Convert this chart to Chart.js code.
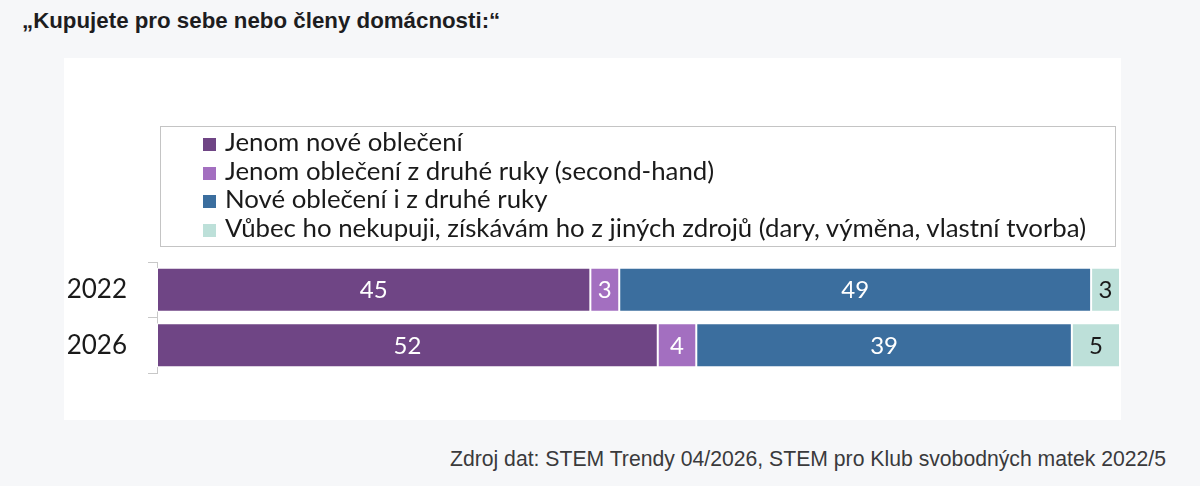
<!DOCTYPE html>
<html lang="cs">
<head>
    <meta charset="UTF-8">
    <title>Kupujete pro sebe nebo členy domácnosti</title>
    <script src="https://cdn.jsdelivr.net/npm/chart.js"></script>
    <style>
        body {
            margin: 0;
            width: 1200px;
            height: 486px;
            background: #f6f7f9;
            position: relative;
            overflow: hidden;
            font-family: "Liberation Sans", Arial, sans-serif;
        }

        .title {
            position: absolute;
            left: 22px;
            top: 8px;
            font-size: 22.3px;
            font-weight: bold;
            color: #1d1d1f;
        }

        .panel {
            position: absolute;
            left: 64px;
            top: 58px;
            width: 1057px;
            height: 362px;
            background: #fff;
        }

        #legend {
            position: absolute;
            left: 96px;
            top: 68px;
            width: 954px;
            height: 119px;
            border: 1px solid #c4c4c4;
            font-family: Lato, sans-serif;
            font-size: 25.8px;
            color: #1a1a1a;
        }

        #legend ul {
            list-style: none;
            margin: 0;
            padding: 0 0 0 42px;
        }

        #legend li {
            height: 28.7px;
            line-height: 28.7px;
            white-space: nowrap;
        }

        #legend .box {
            display: inline-block;
            width: 13px;
            height: 13px;
            margin-right: 9px;
            vertical-align: 0px;
        }

        .source {
            position: absolute;
            right: 34px;
            top: 447px;
            font-size: 21.2px;
            color: #3a3a3c;
        }
    </style>
</head>
<body>
    <div class="title">„Kupujete pro sebe nebo členy domácnosti:“</div>
    <div class="panel">
        <canvas id="chart" width="1057" height="362"></canvas>
        <div id="legend"></div>
    </div>
    <div class="source">Zdroj dat: STEM Trendy 04/2026, STEM pro Klub svobodných matek 2022/5</div>

    <script>
        // data
        const years = ['2022', '2026'];
        const seriesNames = [
            'Jenom nové oblečení',
            'Jenom oblečení z druhé ruky (second-hand)',
            'Nové oblečení i z druhé ruky',
            'Vůbec ho nekupuji, získávám ho z jiných zdrojů (dary, výměna, vlastní tvorba)'
        ];
        const onlyNew = [45, 52];
        const onlySecondHand = [3, 4];
        const newAndSecondHand = [49, 39];
        const notBuying = [3, 5];

        const colors = ['#6f4585', '#a36fc0', '#3b6e9e', '#bde0d9'];
        const labelColors = ['#ffffff', '#ffffff', '#ffffff', '#1a1a1a'];

        const values = [onlyNew, onlySecondHand, newAndSecondHand, notBuying];

        // popisky hodnot uvnitř pruhů
        const barLabels = {
            id: 'barLabels',
            afterDatasetsDraw(chart) {
                const c = chart.ctx;
                c.save();
                c.font = '24px Lato';
                c.textAlign = 'center';
                c.textBaseline = 'middle';
                chart.data.datasets.forEach((ds, i) => {
                    chart.getDatasetMeta(i).data.forEach((bar, j) => {
                        c.fillStyle = labelColors[i];
                        c.fillText(ds.data[j], (bar.x + bar.base) / 2, bar.y + 1);
                    });
                });
                c.restore();
            }
        };

        // legenda jako HTML
        const htmlLegend = {
            id: 'htmlLegend',
            afterUpdate(chart) {
                const el = document.getElementById('legend');
                const items = chart.data.datasets.map(ds =>
                    `<li><span class="box" style="background:${ds.backgroundColor}"></span>${ds.label}</li>`
                );
                el.innerHTML = '<ul>' + items.join('') + '</ul>';
            }
        };

        const ctx = document.getElementById('chart').getContext('2d');
        const chart = new Chart(ctx, {
            type: 'bar',
            data: {
                labels: years,
                datasets: values.map((v, i) => ({
                    label: seriesNames[i],
                    data: v,
                    backgroundColor: colors[i],
                    borderColor: '#ffffff',
                    borderWidth: 1,
                    borderSkipped: false,
                    categoryPercentage: 1,
                    barPercentage: 0.79
                }))
            },
            options: {
                indexAxis: 'y',
                responsive: false,
                animation: false,
                layout: {
                    padding: { top: 204, bottom: 47, left: 0, right: 1 }
                },
                plugins: {
                    legend: { display: false },
                    tooltip: { enabled: false }
                },
                scales: {
                    x: {
                        stacked: true,
                        min: 0,
                        max: 100,
                        display: false
                    },
                    y: {
                        stacked: true,
                        afterFit(scale) { scale.width = 93; },
                        border: { display: true, color: '#c8c8c8', width: 1 },
                        grid: {
                            drawOnChartArea: false,
                            drawTicks: true,
                            tickLength: 9,
                            color: '#c8c8c8'
                        },
                        ticks: {
                            padding: 21,
                            color: '#1a1a1a',
                            font: { family: 'Lato', size: 26 }
                        }
                    }
                }
            },
            plugins: [barLabels, htmlLegend]
        });
    </script>
</body>
</html>
